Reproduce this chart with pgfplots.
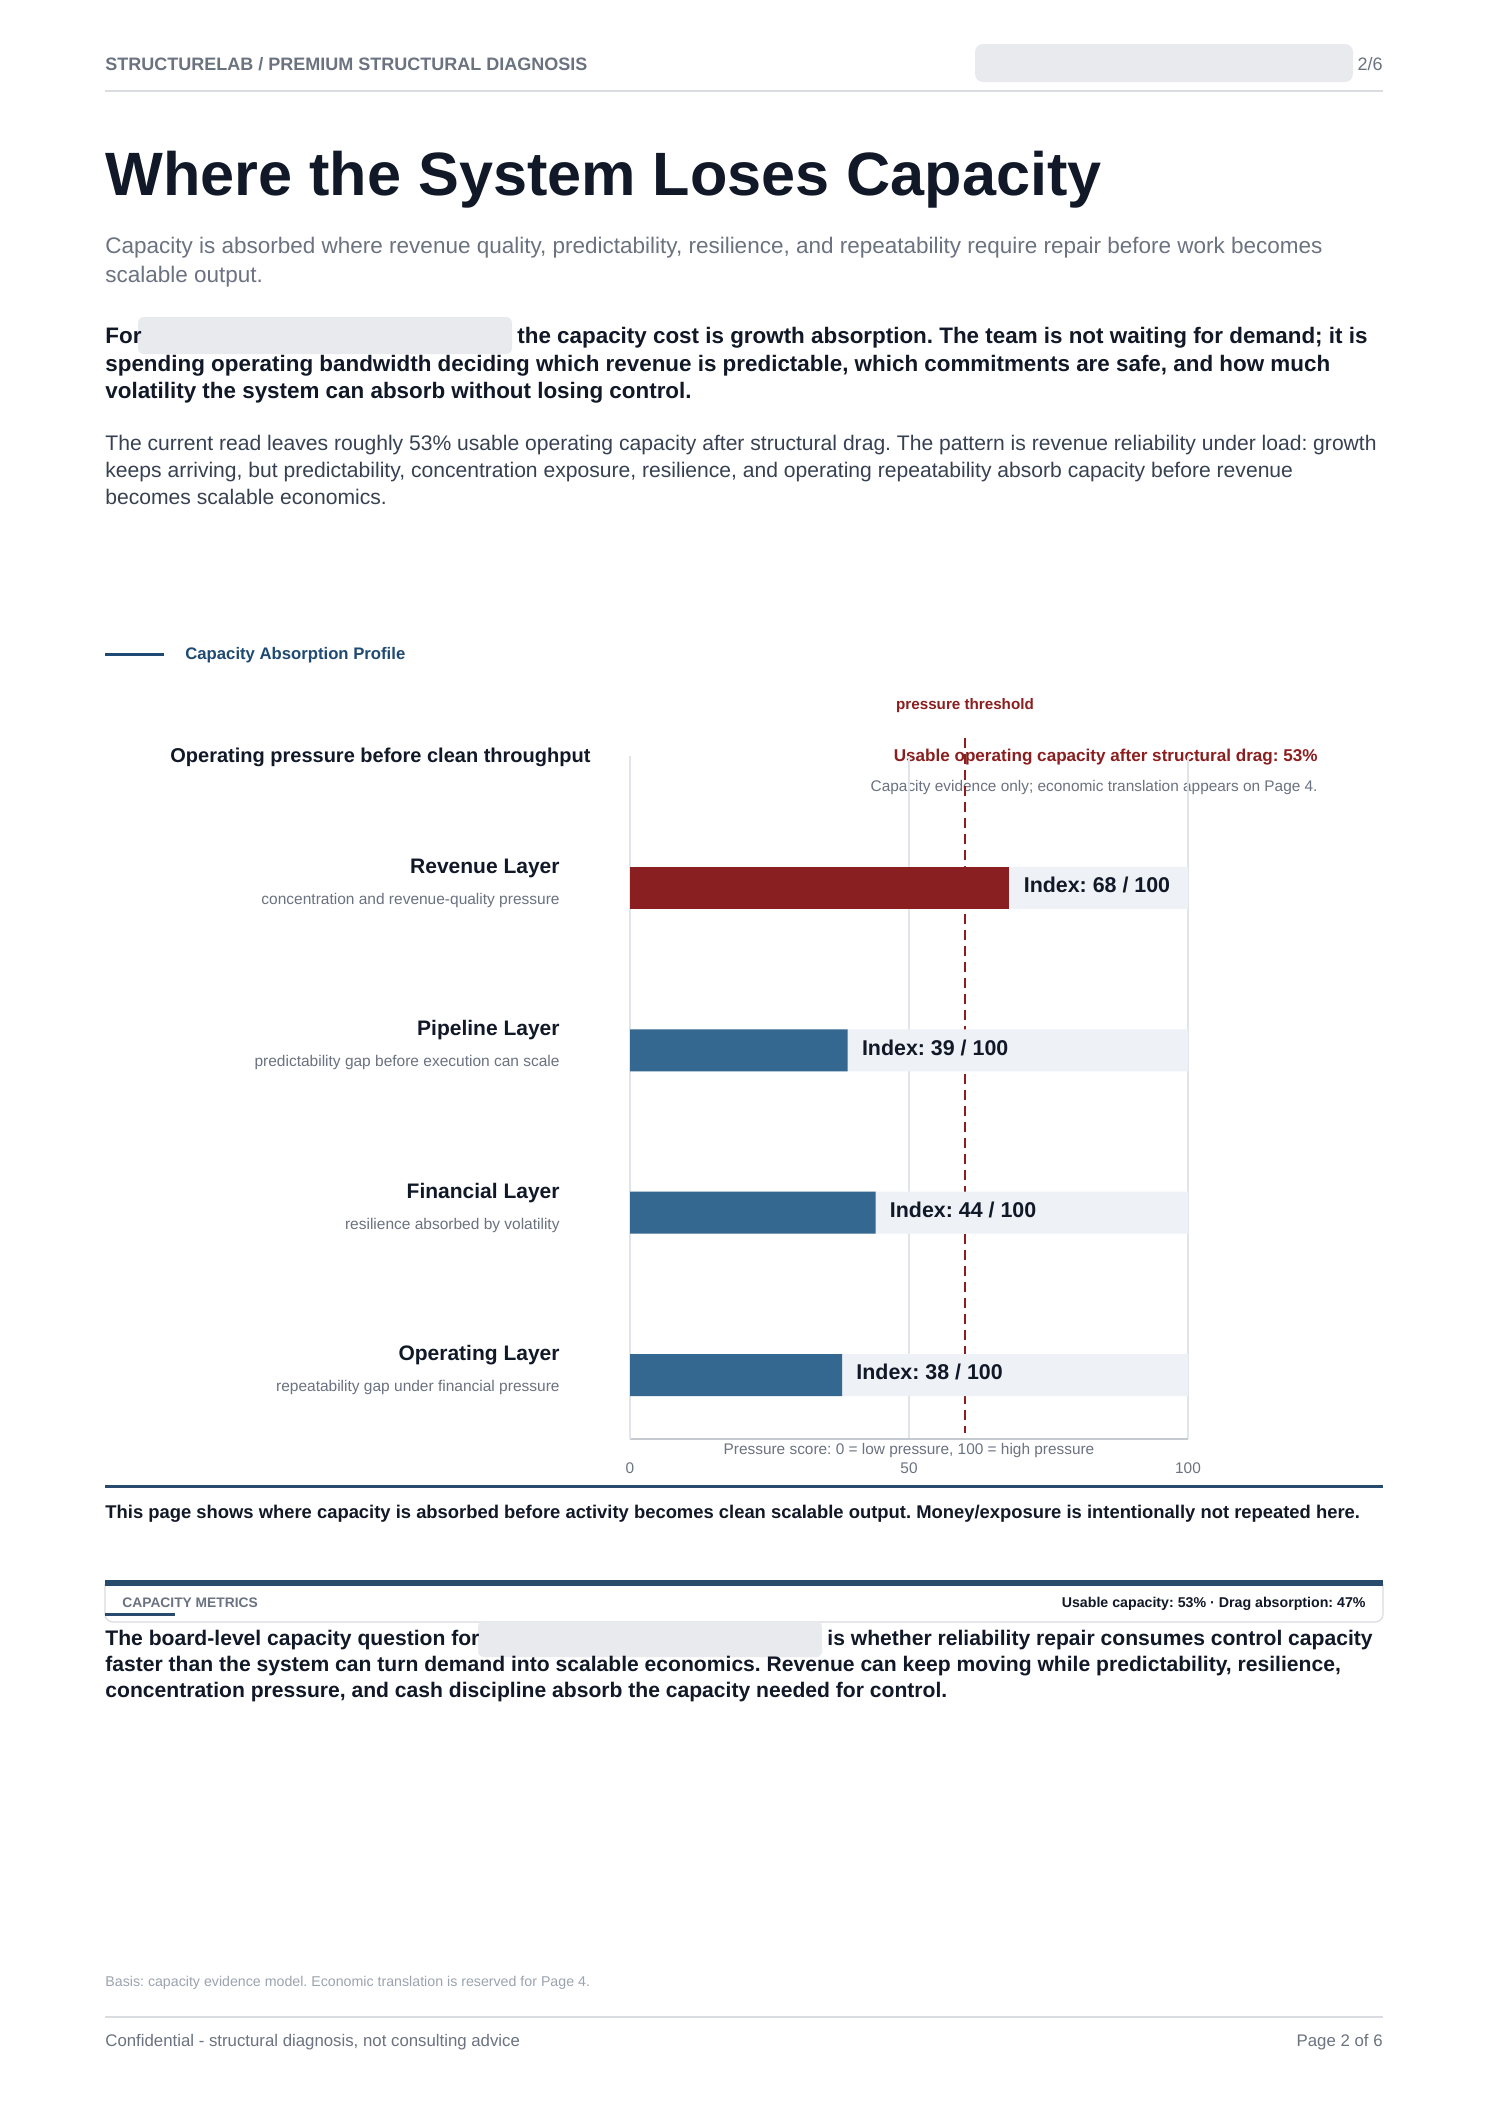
\documentclass[border=0pt]{standalone}
\usepackage{pgfplots}
\pgfplotsset{compat=1.18}
\usepackage{fontspec}
\setmainfont{Liberation Sans}
\frenchspacing
\definecolor{ink}{HTML}{111827}
\definecolor{headgray}{HTML}{6B7280}
\definecolor{bodygray}{HTML}{374151}
\definecolor{subgray}{HTML}{6B7280}
\definecolor{lightgray}{HTML}{9CA3AF}
\definecolor{rulegray}{HTML}{D9DCE1}
\definecolor{blurgray}{HTML}{E8EAED}
\definecolor{secblue}{HTML}{1F4A73}
\definecolor{navy}{HTML}{284A6C}
\definecolor{barred}{HTML}{8A1F21}
\definecolor{barblue}{HTML}{356891}
\definecolor{barbg}{HTML}{EEF1F5}
\definecolor{gridgray}{HTML}{E1E4E9}
\definecolor{axisgray}{HTML}{C5C9D0}
\definecolor{tickgray}{HTML}{6B7280}
\definecolor{threshred}{HTML}{8B1E1E}
\definecolor{boxgray}{HTML}{D8DBE0}
\begin{document}
\begin{tikzpicture}[x=0.5pt,y=-0.5pt]
\fill[white] (0,0) rectangle (1489,2105);
% header
\node[anchor=base west, inner sep=0pt, font=\bfseries\fontsize{9}{11}\selectfont, text=headgray] at (105,70) {STRUCTURELAB / PREMIUM STRUCTURAL DIAGNOSIS};
\fill[blurgray, rounded corners=4pt] (975,44) rectangle (1353,82);
\node[anchor=base east, inner sep=0pt, font=\fontsize{9}{11}\selectfont, text=headgray] at (1383,70) {2/6};
\draw[rulegray, line width=1pt] (105,91) -- (1383,91);
% title
\node[anchor=base west, inner sep=0pt, font=\bfseries\fontsize{30.6}{36}\selectfont, text=ink] at (105,195) {Where the System Loses Capacity};
% subtitle
\begin{scope}[every node/.style={anchor=base west, inner sep=0pt, font=\fontsize{11.25}{14}\selectfont, text=headgray}]
\node at (105,253) {Capacity is absorbed where revenue quality, predictability, resilience, and repeatability require repair before work becomes};
\node at (105,282) {scalable output.};
\end{scope}
% bold paragraph
\fill[blurgray, rounded corners=3pt] (138,317) rectangle (512,354);
\begin{scope}[every node/.style={anchor=base west, inner sep=0pt, font=\bfseries\fontsize{11.2}{14}\selectfont, text=ink}]
\node at (105,343) {For};
\node at (517,343) {the capacity cost is growth absorption. The team is not waiting for demand; it is};
\node at (105,371) {spending operating bandwidth deciding which revenue is predictable, which commitments are safe, and how much};
\node at (105,398) {volatility the system can absorb without losing control.};
\end{scope}
% body paragraph
\begin{scope}[every node/.style={anchor=base west, inner sep=0pt, font=\fontsize{10.55}{13}\selectfont, text=bodygray}]
\node at (105,450) {The current read leaves roughly 53\% usable operating capacity after structural drag. The pattern is revenue reliability under load: growth};
\node at (105,477) {keeps arriving, but predictability, concentration exposure, resilience, and operating repeatability absorb capacity before revenue};
\node at (105,504) {becomes scalable economics.};
\end{scope}
% section label
\draw[secblue, line width=1.5pt] (105,654) -- (164,654);
\node[anchor=base west, inner sep=0pt, font=\bfseries\fontsize{8.35}{10}\selectfont, text=secblue] at (185,659) {Capacity Absorption Profile};
% chart texts
\node[anchor=base, inner sep=0pt, font=\bfseries\fontsize{7.6}{9}\selectfont, text=threshred] at (965,709) {pressure threshold};
\node[anchor=base west, inner sep=0pt, font=\bfseries\fontsize{10}{12}\selectfont, text=ink] at (170,762) {Operating pressure before clean throughput};
\node[anchor=base east, inner sep=0pt, font=\bfseries\fontsize{8.55}{10}\selectfont, text=threshred] at (1318,761) {Usable operating capacity after structural drag: 53\%};
\node[anchor=base east, inner sep=0pt, font=\fontsize{7.7}{9}\selectfont, text=subgray] at (1318,791) {Capacity evidence only; economic translation appears on Page 4.};
% chart
\begin{scope}[x=1cm,y=1cm]
\begin{axis}[
  at={(315pt,-719.5pt)}, anchor=south west,
  scale only axis, width=279pt, height=341.5pt,
  xmin=0, xmax=100, ymin=0.606, ymax=4.812,
  axis x line*=bottom, axis y line*=left,
  axis line style={-},
  x axis line style={draw=axisgray, line width=1.2pt},
  y axis line style={draw=gridgray, line width=0.8pt},
  xtick={0,50,100},
  xmajorgrids, grid style={draw=gridgray, line width=0.8pt},
  major tick length=0pt,
  ytick={1,2,3,4},
  yticklabels={
    {Operating Layer\\{\mdseries\fontsize{7.75}{15.5}\selectfont\color{subgray}repeatability gap under financial pressure}},
    {Financial Layer\\{\mdseries\fontsize{7.75}{15.5}\selectfont\color{subgray}resilience absorbed by volatility}},
    {Pipeline Layer\\{\mdseries\fontsize{7.75}{15.5}\selectfont\color{subgray}predictability gap before execution can scale}},
    {Revenue Layer\\{\mdseries\fontsize{7.75}{15.5}\selectfont\color{subgray}concentration and revenue-quality pressure}}},
  yticklabel style={align=right, anchor=east, inner sep=0pt, xshift=-35pt, yshift=2.4pt, font=\bfseries\fontsize{10.5}{15.5}\selectfont, text=ink},
  xticklabel style={inner sep=0pt, anchor=north, yshift=-11.5pt, font=\fontsize{7.7}{9}\selectfont, text=tickgray},
  /pgf/number format/assume math mode=true,
  xlabel={Pressure score: 0 = low pressure, 100 = high pressure},
  xlabel style={at={(axis description cs:0.5,0)}, anchor=north, inner sep=0pt, yshift=-2pt, font=\fontsize{7.7}{9}\selectfont, text=tickgray},
  clip=false,
]
\addplot[threshred, line width=1.25pt, dash pattern=on 5pt off 3pt] coordinates {(60,4.924) (60,0.643)};
\addplot[xbar, bar width=21pt, bar shift=0pt, fill=barbg, draw=none] coordinates {(100,1) (100,2) (100,3) (100,4)};
\addplot[xbar, bar width=21pt, bar shift=0pt, fill=barred, draw=none,
  point meta=x, nodes near coords={Index: \pgfmathprintnumber{\pgfplotspointmeta} / 100},
  nodes near coords style={anchor=west, inner sep=0pt, xshift=7pt, yshift=1.3pt, font=\bfseries\fontsize{10.7}{12}\selectfont, text=ink}]
  coordinates {(68,4)};
\addplot[xbar, bar width=21pt, bar shift=0pt, fill=barblue, draw=none,
  point meta=x, nodes near coords={Index: \pgfmathprintnumber{\pgfplotspointmeta} / 100},
  nodes near coords style={anchor=west, inner sep=0pt, xshift=7pt, yshift=1.3pt, font=\bfseries\fontsize{10.7}{12}\selectfont, text=ink}]
  coordinates {(39,3) (44,2) (38,1)};
\end{axis}
\end{scope}
% rule under chart
\draw[navy, line width=1.5pt] (105,1486) -- (1383,1486);
\node[anchor=base west, inner sep=0pt, font=\bfseries\fontsize{9.2}{11}\selectfont, text=ink] at (105,1518) {This page shows where capacity is absorbed before activity becomes clean scalable output. Money/exposure is intentionally not repeated here.};
% metrics box
\draw[boxgray, line width=0.6pt, rounded corners=4pt] (105,1584) -- (105,1622) -- (1383,1622) -- (1383,1584);
\fill[navy] (105,1580) rectangle (1383,1586);
\node[anchor=base west, inner sep=0pt, font=\bfseries\fontsize{6.9}{8}\selectfont, text=headgray] at (122,1607) {CAPACITY METRICS};
\draw[navy, line width=1.5pt] (105,1614) -- (175,1614);
\node[anchor=base east, inner sep=0pt, font=\bfseries\fontsize{7.1}{8}\selectfont, text=ink] at (1366,1607) {Usable capacity: 53\% · Drag absorption: 47\%};
% board paragraph
\fill[blurgray, rounded corners=3pt] (478,1621) rectangle (822,1657);
\begin{scope}[every node/.style={anchor=base west, inner sep=0pt, font=\bfseries\fontsize{10.55}{13}\selectfont, text=ink}]
\node at (105,1645) {The board-level capacity question for};
\node at (827,1645) {is whether reliability repair consumes control capacity};
\node at (105,1671) {faster than the system can turn demand into scalable economics. Revenue can keep moving while predictability, resilience,};
\node at (105,1697) {concentration pressure, and cash discipline absorb the capacity needed for control.};
\end{scope}
% basis and footer
\node[anchor=base west, inner sep=0pt, font=\fontsize{7.1}{8}\selectfont, text=lightgray] at (105,1986) {Basis: capacity evidence model. Economic translation is reserved for Page 4.};
\draw[rulegray, line width=1pt] (105,2017) -- (1383,2017);
\node[anchor=base west, inner sep=0pt, font=\fontsize{8.4}{10}\selectfont, text=headgray] at (105,2046) {Confidential - structural diagnosis, not consulting advice};
\node[anchor=base east, inner sep=0pt, font=\fontsize{8.4}{10}\selectfont, text=headgray] at (1383,2046) {Page 2 of 6};
\end{tikzpicture}
\end{document}
